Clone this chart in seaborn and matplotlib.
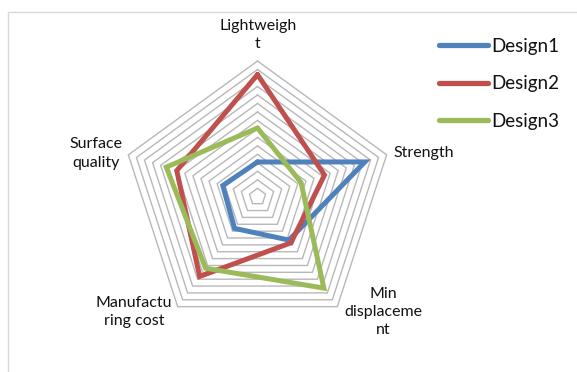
import numpy as np
import pandas as pd
import matplotlib
matplotlib.use("Agg")
import matplotlib.pyplot as plt
import seaborn as sns
from matplotlib.patches import Rectangle

# ---- data ----
categories = ["Lightweigh\nt", "Strength", "Min\ndisplaceme\nnt", "Manufactu\nring cost", "Surface\nquality"]
series_names = ["Design1", "Design2", "Design3"]
design1 = [4.1, 13.3, 6.3, 4.6, 4.3]
design2 = [14.4, 8.3, 6.7, 11.6, 10.0]
design3 = [8.1, 5.4, 13.3, 10.4, 11.3]
ring_levels = list(range(1, 17))

colors = {"Design1": "#4F81BD", "Design2": "#C0504D", "Design3": "#9BBB59"}

sns.set_theme(style="white")
plt.rcParams['font.family'] = ['Lato', 'DejaVu Sans']

W, H = 577, 372
fig = plt.figure(figsize=(W / 100, H / 100), dpi=100)
fig.patch.set_facecolor("white")

cx, cy, R = 257.5, 196.8, 135.8
ax = fig.add_axes([(cx - R) / W, (H - cy - R) / H, 2 * R / W, 2 * R / H], projection='polar')
ax.set_theta_offset(np.pi / 2)
ax.set_theta_direction(-1)

n = len(categories)
theta = np.linspace(0, 2 * np.pi, n, endpoint=False)
theta_closed = np.append(theta, theta[0])

for lv in ring_levels:
    ax.plot(theta_closed, [lv] * (n + 1), color='#B8B8B8', lw=1.0, zorder=1)

rows = []
for name, vals in zip(series_names, [design1, design2, design3]):
    closed = list(vals) + [vals[0]]
    for i, (t, v) in enumerate(zip(theta_closed, closed)):
        rows.append(dict(order=i, theta=t, value=v, series=name))
df = pd.DataFrame(rows)

sns.lineplot(data=df, x='theta', y='value', hue='series', palette=colors,
             sort=False, estimator=None, lw=3.6, ax=ax, zorder=3)
for line in ax.get_lines():
    line.set_clip_on(False)
    line.set_solid_joinstyle('miter')

ax.set_ylim(0, 16)
ax.set_xticks([])
ax.set_yticks([])
ax.grid(False)
ax.spines['polar'].set_visible(False)
ax.set_facecolor('none')
ax.set_xlabel('')
ax.set_ylabel('')

handles, labels = ax.get_legend_handles_labels()
ax.get_legend().remove()
leg = fig.legend(handles, labels, loc='upper left', bbox_to_anchor=(439 / W, 1 - 38 / H),
                 frameon=False, fontsize=13.5, handlelength=2.6, handletextpad=0.2,
                 labelspacing=1.08, borderpad=0, borderaxespad=0)
for t in leg.get_texts():
    t.set_color('#111111')
for h in leg.get_lines():
    h.set_linewidth(3.8)
    h.set_solid_capstyle('round')

# category labels
label_pos = [(258, 35.4), (424, 153.3), (383, 311.7), (134, 312), (96, 153.5)]
for txt, (x, y) in zip(categories, label_pos):
    fig.text(x / W, 1 - y / H, txt, ha='center', va='center', fontsize=11.5,
             linespacing=1.38, color='#111111')

fig.add_artist(Rectangle((8 / W, -0.1), 1.2, (H - 12) / H + 0.1, transform=fig.transFigure,
                         fill=False, edgecolor='#D9D9D9', lw=1))

fig.savefig("out.png", dpi=100, facecolor="white")
